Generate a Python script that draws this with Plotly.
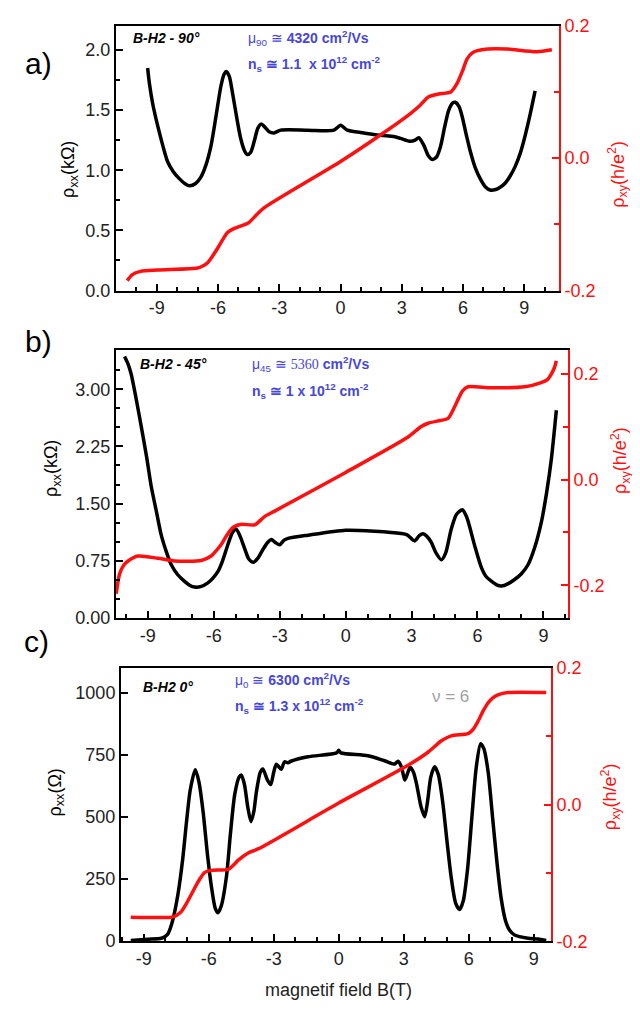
import plotly.graph_objects as go

# ---------------- Panel a (90 deg) ----------------
a_B_xx = [-9.45, -9.37, -9.2, -8.96, -8.7, -8.47, -8.2, -7.9, -7.6, -7.4, -7.1, -6.85, -6.6, -6.35, -6.1,
          -5.86, -5.7, -5.6, -5.45, -5.3, -5.1, -4.9, -4.7, -4.56, -4.4, -4.23, -4.05, -3.88, -3.72, -3.5,
          -3.26, -2.93, -1.63, -0.33, 0.0, 0.33, 0.98, 1.96, 2.6, 2.93, 3.42, 3.65, 3.83, 4.07, 4.3, 4.48,
          4.7, 4.9, 5.1, 5.3, 5.5, 5.62, 5.8, 5.95, 6.15, 6.35, 6.6, 6.84, 7.1, 7.33, 7.6, 7.8, 8.05, 8.3,
          8.55, 8.8, 9.0, 9.2, 9.37, 9.53]
a_rho_xx = [1.85, 1.73, 1.55, 1.37, 1.2, 1.07, 0.99, 0.93, 0.885, 0.87, 0.89, 0.94, 1.04, 1.2, 1.45,
            1.7, 1.80, 1.82, 1.78, 1.65, 1.45, 1.27, 1.16, 1.13, 1.15, 1.24, 1.35, 1.385, 1.36, 1.32,
            1.31, 1.333, 1.333, 1.333, 1.374, 1.333, 1.314, 1.29, 1.28, 1.265, 1.24, 1.25, 1.27, 1.21, 1.12, 1.09,
            1.11, 1.2, 1.36, 1.5, 1.56, 1.565, 1.53, 1.45, 1.3, 1.16, 1.02, 0.93, 0.86, 0.835, 0.84, 0.857, 0.89, 0.95,
            1.03, 1.14, 1.26, 1.40, 1.53, 1.66]
a_B_xy = [-10.45, -10.2, -9.8, -8.96, -7.0, -6.75, -6.5, -6.25, -6.0, -5.75, -5.55, -5.2, -4.9, -4.5, -4.1,
          -3.75, 0.0, 1.95, 3.42, 3.9, 4.3, 4.8, 5.4, 5.7, 5.95, 6.2, 6.45, 6.7, 7.2, 8.15, 9.6, 10.35]
a_rho_xy = [-0.185, -0.176, -0.171, -0.169, -0.166, -0.163, -0.1575, -0.147, -0.135, -0.122, -0.1125, -0.106,
            -0.1025, -0.0975, -0.085, -0.075, -0.005, 0.035, 0.0675, 0.08, 0.0925, 0.097, 0.1, 0.1125, 0.13, 0.15,
            0.159, 0.1625, 0.165, 0.165, 0.161, 0.164]

# ---------------- Panel b (45 deg) ----------------
b_B_xx = [-10.06, -9.9, -9.76, -9.55, -9.3, -9.05, -8.85, -8.6, -8.39, -8.15, -7.94, -7.65, -7.33, -7.1, -6.87,
          -6.6, -6.27, -6.05, -5.81, -5.6, -5.36, -5.15, -4.98, -4.8, -4.6, -4.4, -4.2, -4.0, -3.76, -3.55,
          -3.38, -3.2, -3.0, -2.8, -2.62, -1.71, 0.0, 1.32, 2.53, 2.8, 3.14, 3.35, 3.52, 3.7, 3.9, 4.1,
          4.36, 4.55, 4.81, 5.05, 5.31, 5.5, 5.64, 5.9, 6.18, 6.4, 6.63, 6.9, 7.09, 7.4, 7.69, 8.0, 8.3, 8.6,
          8.91, 9.15, 9.36, 9.59]
b_rho_xx = [3.43, 3.33, 3.2, 2.9, 2.51, 2.1, 1.73, 1.38, 1.086, 0.86, 0.70, 0.57, 0.48, 0.43, 0.405,
            0.41, 0.46, 0.52, 0.61, 0.75, 0.96, 1.12, 1.165, 1.07, 0.914, 0.77, 0.73, 0.78, 0.90, 0.99,
            1.03, 0.99, 0.96, 1.02, 1.043, 1.086, 1.151, 1.138, 1.108, 1.09, 1.01, 1.08, 1.105, 1.07, 0.99, 0.86,
            0.763, 0.85, 1.17, 1.36, 1.418, 1.33, 1.2, 0.92, 0.66, 0.54, 0.483, 0.43, 0.418, 0.45, 0.504, 0.58, 0.698, 0.92,
            1.26, 1.65, 2.078, 2.724]
b_B_xy = [-10.44, -10.29, -10.1, -9.9, -9.45, -8.54, -7.78, -6.57, -6.12, -5.9, -5.66, -5.4, -5.13, -4.75,
          -4.14, -3.69, -3.23, 0.0, 2.84, 3.44, 3.75, 4.3, 4.66, 4.96, 5.15, 5.34, 5.57, 6.63, 8.15, 8.9, 9.2, 9.36, 9.5,
          9.59]
b_rho_xy = [-0.216, -0.179, -0.162, -0.154, -0.1447, -0.149, -0.154, -0.153, -0.1447, -0.135, -0.123, -0.105,
            -0.0907, -0.0845, -0.0857, -0.070, -0.0596, 0.0137, 0.0807, 0.1006, 0.1068, 0.112, 0.116, 0.138, 0.155,
            0.169, 0.176, 0.174, 0.176, 0.184, 0.19, 0.2, 0.212, 0.225]

# ---------------- Panel c (0 deg) ----------------
c_B_xx = [-9.6, -8.8, -8.18, -7.9, -7.7, -7.42, -7.2, -7.03, -6.85, -6.62, -6.45, -6.26, -6.05, -5.88, -5.7,
          -5.57, -5.42, -5.18, -5.0, -4.8, -4.6, -4.49, -4.35, -4.2, -4.05, -3.92, -3.8, -3.62, -3.5, -3.3,
          -3.14, -3.0, -2.88, -2.75, -2.65, -2.5, -2.35, -2.18, -1.42, -0.1, 0.0, 0.1, 1.35, 2.12, 2.58, 2.74,
          2.9, 3.05, 3.18, 3.3, 3.45, 3.6, 3.8, 3.97, 4.1, 4.25, 4.43, 4.6, 4.8, 5.0, 5.2, 5.4, 5.58, 5.75,
          5.95, 6.15, 6.35, 6.55, 6.7, 6.9, 7.1, 7.3, 7.5, 7.7, 7.9, 8.12, 8.74, 9.2, 9.58]
c_rho_xx = [0, 5, 9, 25, 70, 187, 330, 476, 610, 690, 640, 520, 340, 220, 130,
            112, 140, 260, 430, 590, 660, 668, 630, 540, 480, 520, 600, 680, 693, 650,
            630, 680, 712, 700, 692, 722, 718, 725, 742, 758, 768, 758, 746, 726, 713, 724,
            700, 648, 675, 700, 680, 630, 540, 500, 560, 660, 702, 670, 560, 400, 250, 150, 125, 160,
            290, 500, 700, 795, 775, 680, 500, 320, 170, 80, 40, 22, 9, 6, 0]
c_B_xy = [-9.6, -7.72, -7.5, -7.26, -6.95, -6.65, -6.4, -6.18, -5.88, -5.1, -4.85, -4.65, -4.18, -3.72, 0.0,
          3.2, 4.12, 4.74, 5.2, 5.97, 6.2, 6.43, 6.65, 6.89, 7.1, 7.35, 7.82, 9.58]
c_rho_xy = [-0.1645, -0.1645, -0.162, -0.156, -0.14, -0.122, -0.108, -0.099, -0.096, -0.0945, -0.088, -0.0815,
            -0.0705, -0.0647, 0.0024, 0.0576, 0.0767, 0.0935, 0.1007, 0.104, 0.11, 0.122, 0.136, 0.1487, 0.156,
            0.1607, 0.164, 0.164]

# ---------------- ticks ----------------
x_tickvals = [-9, -6, -3, 0, 3, 6, 9]
x_ticktext = ["-9", "-6", "-3", "0", "3", "6", "9"]
a_ytickvals = [0.0, 0.5, 1.0, 1.5, 2.0]
a_yticktext = ["0.0", "0.5", "1.0", "1.5", "2.0"]
b_ytickvals = [0.0, 0.75, 1.5, 2.25, 3.0]
b_yticktext = ["0.00", "0.75", "1.50", "2.25", "3.00"]
c_ytickvals = [0, 250, 500, 750, 1000]
c_yticktext = ["0", "250", "500", "750", "1000"]
r_tickvals = [-0.2, 0.0, 0.2]
r_ticktext = ["-0.2", "0.0", "0.2"]

W, H = 640, 1016
FONT = "Liberation Sans, Arial, sans-serif"
RED = "#ff1010"
BLUE = "#4646dc"


def px(x):
    return x / W


def py(y):
    return 1 - y / H


fig = go.Figure()

panels = [
    dict(bx=a_B_xx, rx=a_rho_xx, by=a_B_xy, ry=a_rho_xy, xa="x", ya="y", ya2="y2"),
    dict(bx=b_B_xx, rx=b_rho_xx, by=b_B_xy, ry=b_rho_xy, xa="x2", ya="y3", ya2="y4"),
    dict(bx=c_B_xx, rx=c_rho_xx, by=c_B_xy, ry=c_rho_xy, xa="x3", ya="y5", ya2="y6"),
]
for p in panels:
    fig.add_trace(go.Scatter(x=p["bx"], y=p["rx"], xaxis=p["xa"], yaxis=p["ya"], mode="lines",
                             line=dict(color="black", width=3.5, shape="spline", smoothing=0.7),
                             showlegend=False, hoverinfo="skip"))
    fig.add_trace(go.Scatter(x=p["by"], y=p["ry"], xaxis=p["xa"], yaxis=p["ya2"], mode="lines",
                             line=dict(color=RED, width=3.5, shape="spline", smoothing=0.7),
                             showlegend=False, hoverinfo="skip"))


def xaxis(dom, rng, anchor):
    return dict(domain=dom, range=rng, anchor=anchor, showline=True, linecolor="black", linewidth=2,
                mirror=True, showgrid=False, zeroline=False, tickvals=x_tickvals, ticktext=x_ticktext,
                ticks="inside", ticklen=7, tickwidth=2, tickcolor="black",
                minor=dict(dtick=1, tick0=0, ticks="inside", ticklen=4, tickwidth=2, tickcolor="black"),
                tickfont=dict(family=FONT, size=18, color="#222"))


def yleft(dom, rng, anchor, tv, tt, minor):
    d = dict(domain=dom, range=rng, anchor=anchor, showline=True, linecolor="black", linewidth=2,
             showgrid=False, zeroline=False, tickvals=tv, ticktext=tt, ticks="inside", ticklen=7,
             tickwidth=2, tickcolor="black", tickfont=dict(family=FONT, size=18, color="#222"))
    if minor:
        d["minor"] = dict(dtick=minor, tick0=0, ticks="inside", ticklen=4, tickwidth=2, tickcolor="black")
    return d


def yright(over, rng, anchor):
    return dict(overlaying=over, side="right", range=rng, anchor=anchor, showline=True, linecolor=RED,
                linewidth=2, showgrid=False, zeroline=False, tickvals=r_tickvals, ticktext=r_ticktext,
                ticks="inside", ticklen=7, tickwidth=2, tickcolor=RED,
                minor=dict(dtick=0.1, tick0=0, ticks="inside", ticklen=5, tickwidth=2, tickcolor=RED),
                tickfont=dict(family=FONT, size=18, color=RED))


dom_a_x = [px(108), px(551)]
dom_a_y = [py(278), py(8)]
dom_b_x = [px(108), px(560)]
dom_b_y = [py(612), py(339)]
dom_c_x = [px(113), px(543)]
dom_c_y = [py(942), py(663)]

fig.update_layout(
    width=W, height=H, margin=dict(l=0, r=0, t=0, b=0),
    paper_bgcolor="white", plot_bgcolor="white",
    xaxis=xaxis(dom_a_x, [-11.0, 10.7], "y"),
    yaxis=yleft(dom_a_y, [0, 2.2], "x", a_ytickvals, a_yticktext, 0.25),
    yaxis2=yright("y", [-0.2, 0.2], "x"),
    xaxis2=xaxis(dom_b_x, [-10.45, 10.12], "y3"),
    yaxis3=yleft(dom_b_y, [0, 3.51], "x2", b_ytickvals, b_yticktext, 0.25),
    yaxis4=yright("y3", [-0.262, 0.245], "x2"),
    xaxis3=xaxis(dom_c_x, [-10.05, 9.8], "y5"),
    yaxis5=yleft(dom_c_y, [-4, 1101], "x3", c_ytickvals, c_yticktext, None),
    yaxis6=yright("y5", [-0.2, 0.2], "x3"),
)

ann = []


def text(x, y, t, size=14, color="black", anchor="left", angle=0, family=FONT):
    ann.append(dict(x=px(x), y=py(y), xref="paper", yref="paper", text=t, showarrow=False,
                    xanchor=anchor, yanchor="middle", textangle=angle,
                    font=dict(family=family, size=size, color=color)))


# panel letters
text(30, 46, "a)", size=30, anchor="center")
text(30, 330, "b)", size=30, anchor="center")
text(28, 636, "c)", size=30, anchor="center")

# sample labels
text(123, 20, "<b><i>B-H2 - 90°</i></b>", size=14)
text(130, 353, "<b><i>B-H2 - 45°</i></b>", size=14)
text(133, 682, "<b><i>B-H2 0°</i></b>", size=14)

# mobility / density
text(238, 20, "μ<sub>90</sub> ≅ <b>4320 cm<sup>2</sup>/Vs</b>", size=14, color=BLUE)
text(238, 47, "<b>n<sub>s</sub> ≅ 1.1  x 10<sup>12</sup> cm<sup>-2</sup></b>", size=14, color=BLUE)
text(242, 353, "μ<sub>45</sub> ≅ <span style='font-family:Liberation Serif'>5360</span> <b>cm<sup>2</sup>/Vs</b>",
     size=14, color=BLUE)
text(242, 380, "<b>n<sub>s</sub> ≅ 1 x 10<sup>12</sup> cm<sup>-2</sup></b>", size=14, color=BLUE)
text(225, 675, "μ<sub>0</sub> ≅ <b>6300 cm<sup>2</sup>/Vs</b>", size=14, color=BLUE)
text(225, 702, "<b>n<sub>s</sub> ≅ 1.3 x 10<sup>12</sup> cm<sup>-2</sup></b>", size=14, color=BLUE)
text(422, 692, "ν = 6", size=17, color="#a0a0a0")

# axis titles
text(62, 155, "ρ<sub>xx</sub>(kΩ)", size=18, anchor="center", angle=-90)
text(45, 460, "ρ<sub>xx</sub>(kΩ)", size=18, anchor="center", angle=-90)
text(48, 790, "ρ<sub>xx</sub>(Ω)", size=18, anchor="center", angle=-90)
text(610, 160, "ρ<sub>xy</sub>(h/e<sup>2</sup>)", size=18, color=RED, anchor="center", angle=-90)
text(612, 452, "ρ<sub>xy</sub>(h/e<sup>2</sup>)", size=18, color=RED, anchor="center", angle=-90)
text(602, 795, "ρ<sub>xy</sub>(h/e<sup>2</sup>)", size=18, color=RED, anchor="center", angle=-90)
text(330, 992, "magnetif field B(T)", size=18, color="#222", anchor="center")

fig.update_layout(annotations=ann)
fig.write_html("out.html")
